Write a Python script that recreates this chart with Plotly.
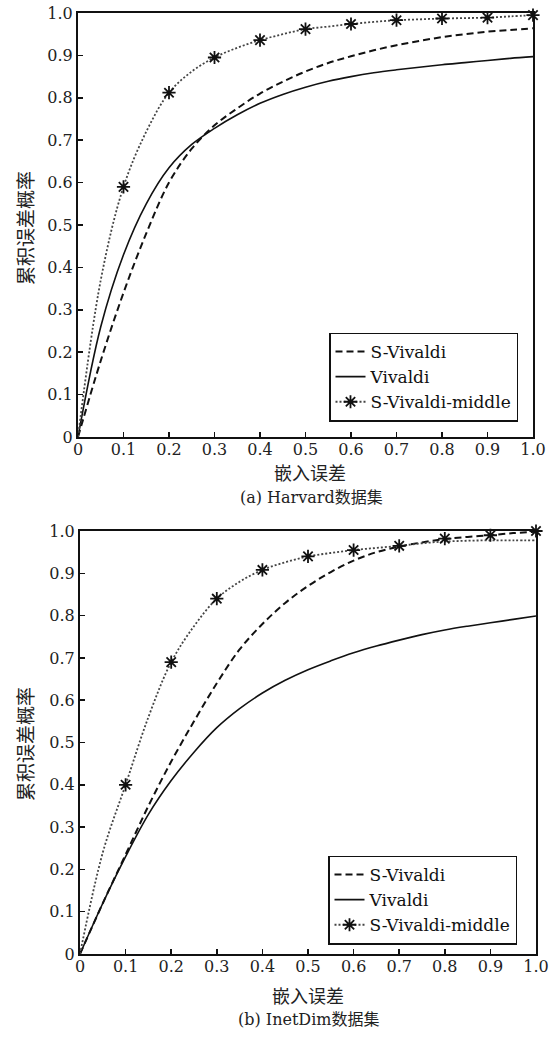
import plotly.graph_objects as go

# ---------------- data ----------------
x_err = [0.0, 0.05, 0.1, 0.15, 0.2, 0.25, 0.3, 0.35, 0.4, 0.45, 0.5,
         0.55, 0.6, 0.65, 0.7, 0.75, 0.8, 0.85, 0.9, 0.95, 1.0]
x_marks = [0.1, 0.2, 0.3, 0.4, 0.5, 0.6, 0.7, 0.8, 0.9, 1.0]

tick_vals = [0.0, 0.1, 0.2, 0.3, 0.4, 0.5, 0.6, 0.7, 0.8, 0.9, 1.0]
tick_text = ["0", "0.1", "0.2", "0.3", "0.4", "0.5", "0.6", "0.7", "0.8", "0.9", "1.0"]

series_names = ["S-Vivaldi", "Vivaldi", "S-Vivaldi-middle"]

# (a) Harvard
harvard_s_vivaldi = [0.0, 0.18, 0.34, 0.48, 0.6, 0.68, 0.735, 0.775, 0.81, 0.838, 0.862,
                     0.882, 0.898, 0.912, 0.924, 0.934, 0.943, 0.95, 0.956, 0.96, 0.964]
harvard_vivaldi = [0.0, 0.26, 0.43, 0.55, 0.635, 0.69, 0.728, 0.76, 0.787, 0.808, 0.825,
                   0.839, 0.85, 0.859, 0.866, 0.872, 0.878, 0.883, 0.888, 0.893, 0.897]
harvard_middle_line = [0.0, 0.37, 0.59, 0.72, 0.812, 0.862, 0.895, 0.918, 0.936, 0.95, 0.962,
                       0.968, 0.974, 0.979, 0.983, 0.985, 0.987, 0.988, 0.989, 0.992, 0.995]
harvard_middle_marks = [0.59, 0.812, 0.895, 0.936, 0.962, 0.974, 0.983, 0.987, 0.989, 0.995]

# (b) InetDim
inet_s_vivaldi = [0.0, 0.12, 0.235, 0.35, 0.455, 0.55, 0.64, 0.72, 0.78, 0.83, 0.87,
                  0.903, 0.93, 0.95, 0.963, 0.973, 0.981, 0.986, 0.99, 0.995, 0.998]
inet_vivaldi = [0.0, 0.12, 0.23, 0.33, 0.41, 0.477, 0.535, 0.58, 0.617, 0.647, 0.672,
                0.693, 0.712, 0.728, 0.742, 0.755, 0.766, 0.775, 0.783, 0.791, 0.799]
inet_middle_line = [0.0, 0.24, 0.40, 0.56, 0.69, 0.775, 0.84, 0.88, 0.908, 0.926, 0.94,
                    0.948, 0.955, 0.96, 0.965, 0.971, 0.975, 0.977, 0.978, 0.978, 0.978]
inet_middle_marks = [0.40, 0.69, 0.84, 0.908, 0.94, 0.955, 0.965, 0.982, 0.99, 1.0]

x_title = "嵌入误差"
y_title = "累积误差概率"
captions = ["(a) Harvard数据集", "(b) InetDim数据集"]

# ---------------- layout helpers ----------------
W, H = 555, 1038
def px(x):
    return x / W
def py(y):
    return 1 - y / H

LAT = "DejaVu Serif, Noto Sans CJK SC, serif"
CJK = "Noto Sans CJK SC, DejaVu Serif, sans-serif"

fig = go.Figure()

panels = [
    dict(xa="x", ya="y", legend="legend",
         s=harvard_s_vivaldi, v=harvard_vivaldi, ml=harvard_middle_line, mm=harvard_middle_marks),
    dict(xa="x2", ya="y2", legend="legend2",
         s=inet_s_vivaldi, v=inet_vivaldi, ml=inet_middle_line, mm=inet_middle_marks),
]

for p in panels:
    fig.add_trace(go.Scatter(x=x_err, y=p["s"], mode="lines", name=series_names[0],
                             line=dict(color="#111", width=2, dash="7px,4px", shape="spline"),
                             xaxis=p["xa"], yaxis=p["ya"], legend=p["legend"], cliponaxis=False))
    fig.add_trace(go.Scatter(x=x_err, y=p["v"], mode="lines", name=series_names[1],
                             line=dict(color="#111", width=1.6, shape="spline"),
                             xaxis=p["xa"], yaxis=p["ya"], legend=p["legend"], cliponaxis=False))
    fig.add_trace(go.Scatter(x=x_err, y=p["ml"], mode="lines", name=series_names[2],
                             line=dict(color="#444", width=1.8, dash="2px,2px", shape="spline"),
                             showlegend=False,
                             xaxis=p["xa"], yaxis=p["ya"], legend=p["legend"], cliponaxis=False))
    fig.add_trace(go.Scatter(x=x_marks, y=p["mm"], mode="markers", name=series_names[2],
                             marker=dict(symbol="asterisk-open", size=11, color="#111",
                                         line=dict(color="#111", width=1.8)),
                             showlegend=False,
                             xaxis=p["xa"], yaxis=p["ya"], legend=p["legend"], cliponaxis=False))
    # legend entry for the dotted + asterisk series
    fig.add_trace(go.Scatter(x=[None], y=[None], mode="lines+markers", name=series_names[2],
                             line=dict(color="#444", width=1.8, dash="2px,2px"),
                             marker=dict(symbol="asterisk-open", size=11, color="#111",
                                         line=dict(color="#111", width=1.8)),
                             xaxis=p["xa"], yaxis=p["ya"], legend=p["legend"]))

axis_common = dict(
    range=[0, 1], showline=True, linecolor="#111", linewidth=2, mirror=True,
    ticks="inside", ticklen=5, tickwidth=1.5, tickcolor="#111",
    showgrid=False, zeroline=False, automargin=False,
    tickvals=tick_vals, ticktext=tick_text,
    tickfont=dict(family=LAT, size=16, color="#222"),
)
x_axis_style = dict(axis_common, ticklabelstandoff=-3)
y_axis_style = dict(axis_common, ticklabelstandoff=0)

legend_common = dict(
    bgcolor="white", bordercolor="#111", borderwidth=1.5,
    font=dict(family=LAT, size=17, color="#111"),
    xanchor="right", yanchor="middle", tracegroupgap=0, itemwidth=30,
)

fig.update_layout(
    width=W, height=H, autosize=False,
    margin=dict(l=0, r=0, t=0, b=0, autoexpand=False),
    paper_bgcolor="white", plot_bgcolor="white",
    showlegend=True,
    xaxis=dict(domain=[px(78), px(533)], anchor="y", **x_axis_style),
    yaxis=dict(domain=[py(437), py(13)], anchor="x", **y_axis_style),
    xaxis2=dict(domain=[px(80), px(536)], anchor="y2", **x_axis_style),
    yaxis2=dict(domain=[py(954), py(531)], anchor="x2", **y_axis_style),
    legend=dict(x=px(518), y=py(377), **legend_common),
    legend2=dict(x=px(517), y=py(900), **legend_common),
)

annotations = []
def ann(text, x, y, font, angle=0):
    annotations.append(dict(text=text, x=px(x), y=py(y), xref="paper", yref="paper",
                            xanchor="center", yanchor="middle", textangle=angle,
                            showarrow=False, font=font))

xt_font = dict(family=CJK, size=18, color="#222")
yt_font = dict(family=CJK, size=19, color="#222")
cap_font = dict(family=LAT, size=16, color="#222")
# panel (a)
ann(x_title, 310, 472, xt_font)
ann(captions[0], 311, 497, cap_font)
ann(y_title, 24, 228, yt_font, -90)
# panel (b)
ann(x_title, 308, 995, xt_font)
ann(captions[1], 308, 1019, cap_font)
ann(y_title, 24, 744, yt_font, -90)
fig.update_layout(annotations=annotations)

fig.write_html("out.html",
               config={"displayModeBar": False, "staticPlot": True},
               post_script="document.body.style.margin='0';document.body.style.overflow='hidden';")
